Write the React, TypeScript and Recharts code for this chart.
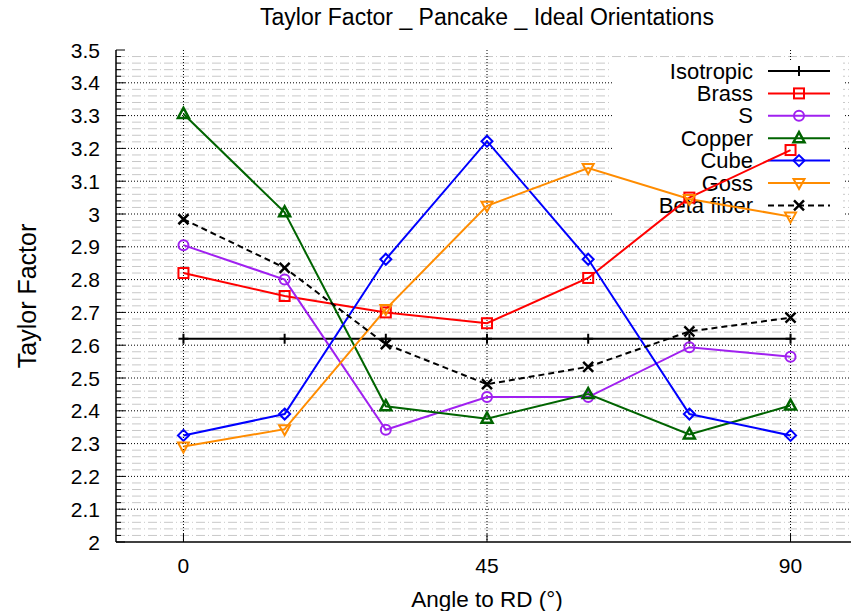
import React from 'react';
import { LineChart, Line, XAxis, YAxis, CartesianGrid, Label } from 'recharts';

const FONT = '"Liberation Sans", Arial, Helvetica, sans-serif';

const angles = [0, 15, 30, 45, 60, 75, 90];
const isotropic = [2.62, 2.62, 2.62, 2.62, 2.62, 2.62, 2.62];
const brass = [2.82, 2.75, 2.7, 2.667, 2.805, 3.05, 3.195];
const sOrient = [2.905, 2.8, 2.342, 2.442, 2.442, 2.594, 2.565];
const copper = [3.305, 3.005, 2.414, 2.376, 2.451, 2.328, 2.416];
const cube = [2.325, 2.39, 2.862, 3.222, 2.862, 2.39, 2.325];
const goss = [2.291, 2.344, 2.71, 3.025, 3.14, 3.046, 2.992];
const betaFiber = [2.984, 2.836, 2.603, 2.481, 2.534, 2.642, 2.684];
const xTicks = [0, 45, 90];

// y ticks every 0.02, labelled every 0.1
const yTicks = Array.from({ length: 76 }, (_, i) => Math.round((2 + i * 0.02) * 100) / 100);
const majorY = yTicks.filter((_, i) => i % 5 === 0 && i > 0 && i < 75);
const minorY = yTicks.filter((_, i) => i % 5 !== 0);

type Shape = 'plus' | 'square' | 'circle' | 'triUp' | 'diamond' | 'triDown' | 'cross';

const series: { name: string; values: number[]; color: string; shape: Shape; dash?: string }[] = [
  { name: 'Isotropic', values: isotropic, color: '#000000', shape: 'plus' },
  { name: 'Brass', values: brass, color: '#ff0000', shape: 'square' },
  { name: 'S', values: sOrient, color: '#a020f0', shape: 'circle' },
  { name: 'Copper', values: copper, color: '#006400', shape: 'triUp' },
  { name: 'Cube', values: cube, color: '#0000ff', shape: 'diamond' },
  { name: 'Goss', values: goss, color: '#ff8c00', shape: 'triDown' },
  { name: 'Beta fiber', values: betaFiber, color: '#000000', shape: 'cross', dash: '6 4' },
];

const data = angles.map((a, i) => {
  const row: Record<string, number> = { angle: a };
  series.forEach((s) => (row[s.name] = s.values[i]));
  return row;
});

const Marker = ({ shape, cx, cy, color }: { shape: Shape; cx: number; cy: number; color: string }) => {
  const common = { stroke: color, strokeWidth: 2, fill: 'none' };
  switch (shape) {
    case 'plus':
      return <path d={`M${cx - 5},${cy}H${cx + 5}M${cx},${cy - 5}V${cy + 5}`} {...common} />;
    case 'square':
      return <rect x={cx - 5} y={cy - 5} width={10} height={10} {...common} />;
    case 'circle':
      return <circle cx={cx} cy={cy} r={5} {...common} />;
    case 'triUp':
      return <path d={`M${cx},${cy - 6}L${cx + 5.5},${cy + 4}L${cx - 5.5},${cy + 4}Z`} {...common} strokeWidth={2.5} />;
    case 'triDown':
      return <path d={`M${cx},${cy + 6}L${cx + 5.5},${cy - 4}L${cx - 5.5},${cy - 4}Z`} {...common} />;
    case 'diamond':
      return <path d={`M${cx},${cy - 5.5}L${cx + 5.5},${cy}L${cx},${cy + 5.5}L${cx - 5.5},${cy}Z`} {...common} />;
    case 'cross':
      return <path d={`M${cx - 5},${cy - 5}L${cx + 5},${cy + 5}M${cx - 5},${cy + 5}L${cx + 5},${cy - 5}`} {...common} strokeWidth={2.5} />;
  }
  return null;
};

const makeDot = (shape: Shape, color: string) => (p: any) =>
  <Marker key={`${shape}-${p.index}`} shape={shape} cx={p.cx} cy={p.cy} color={color} />;

const renderYTick = (p: any) => {
  const { x, y, payload } = p;
  const major = Math.round(payload.value * 100) % 10 === 0;
  return (
    <g>
      <line x1={x} x2={x + (major ? 9 : 5)} y1={y} y2={y} stroke="#000" strokeWidth={1} />
      {major && (
        <text x={x - 16} y={y} textAnchor="end" dominantBaseline="central" fontSize={21} fill="#000">
          {String(payload.value)}
        </text>
      )}
    </g>
  );
};

const renderXTick = (p: any) => {
  const { x, y, payload } = p;
  return (
    <g>
      <line x1={x} x2={x} y1={y} y2={y - 8} stroke="#000" strokeWidth={1} />
      <text x={x} y={y + 31} textAnchor="middle" fontSize={21} fill="#000">
        {payload.value}
      </text>
    </g>
  );
};

const renderTopTick = (p: any) => (
  <line x1={p.x} x2={p.x} y1={p.y} y2={p.y + 8} stroke="#000" strokeWidth={1} />
);

// key box, drawn inside the svg so the data lines pass over it
const KeyBox = () => (
  <g transform="translate(612,60)">
    <rect x={0} y={0} width={231} height={158} fill="#fff" />
    {series.map((s, i) => {
      const y = 11 + i * 22.4;
      return (
        <g key={s.name}>
          <text x={141} y={y} textAnchor="end" dominantBaseline="central" fontSize={22} fill="#000">
            {s.name}
          </text>
          <line x1={156} x2={218} y1={y} y2={y} stroke={s.color} strokeWidth={2} strokeDasharray={s.dash} />
          <Marker shape={s.shape} cx={187} cy={y} color={s.color} />
        </g>
      );
    })}
  </g>
);

export default function App() {
  return (
    <div
      style={{
        position: 'fixed', left: 0, top: 0, width: 851, height: 611,
        overflow: 'hidden', background: '#fff', fontFamily: FONT,
      }}
    >
      <div style={{ position: 'absolute', left: 0, width: 974, top: 4, textAlign: 'center', fontSize: 23, color: '#000' }}>
        Taylor Factor _ Pancake _ Ideal Orientations
      </div>
      <LineChart width={858} height={611} data={data} margin={{ top: 50, right: 0, bottom: 0, left: 56 }}>
        <CartesianGrid horizontalValues={minorY} vertical={false} stroke="#c8c8c8" strokeDasharray="9 3 1 3" />
        <CartesianGrid horizontalValues={majorY} verticalValues={xTicks} stroke="#000" strokeDasharray="1 2" />
        <KeyBox />
        <XAxis
          type="number" dataKey="angle" domain={[-10, 100]} ticks={xTicks} interval={0}
          height={69} tickSize={0} tickMargin={0} tick={renderXTick}
          axisLine={{ stroke: '#000', strokeWidth: 1.5 }} allowDataOverflow
        >
          <Label value="Angle to RD (°)" position="insideBottom" offset={4} fontSize={22.5} fill="#000" />
        </XAxis>
        <XAxis
          xAxisId="top" orientation="top" type="number" dataKey="angle" domain={[-10, 100]}
          ticks={xTicks} interval={0} height={0} tickSize={0} tickMargin={0} tick={renderTopTick}
          axisLine={{ stroke: '#000', strokeWidth: 1.5 }} allowDataOverflow
        />
        <YAxis
          type="number" domain={[2, 3.5]} ticks={yTicks} interval={0} width={60}
          tickSize={0} tickMargin={0} tick={renderYTick}
          axisLine={{ stroke: '#000', strokeWidth: 1.5 }} allowDataOverflow
        >
          <Label
            content={(p: any) => {
              const vb = p.viewBox || { y: 50, height: 492 };
              const cy = vb.y + vb.height / 2;
              return (
                <text x={27} y={cy} transform={`rotate(-90 27 ${cy})`} textAnchor="middle"
                  dominantBaseline="central" fontSize={25} fill="#000">
                  Taylor Factor
                </text>
              );
            }}
          />
        </YAxis>
        {series.map((s) => (
          <Line
            key={s.name} type="linear" dataKey={s.name} stroke={s.color} strokeWidth={2}
            strokeDasharray={s.dash} dot={makeDot(s.shape, s.color)} activeDot={false}
            isAnimationActive={false}
          />
        ))}
      </LineChart>
    </div>
  );
}
